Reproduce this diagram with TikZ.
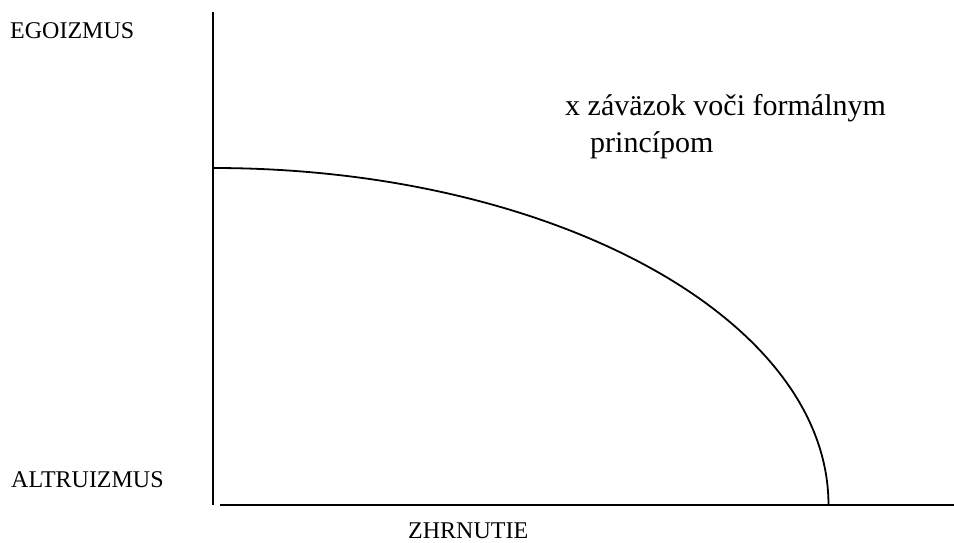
\documentclass[tikz,border=0pt]{standalone}
\usepackage{fontspec}
\setmainfont{Liberation Serif}
\begin{document}
\begin{tikzpicture}[x=1pt,y=-1pt,
  axis/.style={line width=2pt,black},
  curveline/.style={line width=1.8pt,black},
  lbl/.style={anchor=base west,inner sep=0pt,font=\fontsize{24}{28}\selectfont},
  big/.style={anchor=base west,inner sep=0pt,font=\fontsize{30}{36}\selectfont}]
\useasboundingbox (0,0) rectangle (954,542);
% axes
\coordinate (vtop) at (212.5,12);
\coordinate (vbot) at (212.5,505);
\coordinate (hleft) at (220,505);
\coordinate (hright) at (954,505);
\draw[axis] (vtop) -- (vbot);
\draw[axis] (hleft) -- (hright);
% curve
\coordinate (cstart) at (213,168);
\coordinate (cend) at (828.5,505);
\draw[curveline] (cstart) .. controls (553,168) and (828.5,319) .. (cend);
% labels
\node[lbl] (ego) at (10,38) {EGOIZMUS};
\node[lbl] (alt) at (11,487) {ALTRUIZMUS};
\node[lbl] (zhr) at (408,538) {ZHRNUTIE};
\node[big] (t1) at (565,115) {x záväzok voči formálnym};
\node[big] (t2) at (590,152) {princípom};
\end{tikzpicture}
\end{document}
